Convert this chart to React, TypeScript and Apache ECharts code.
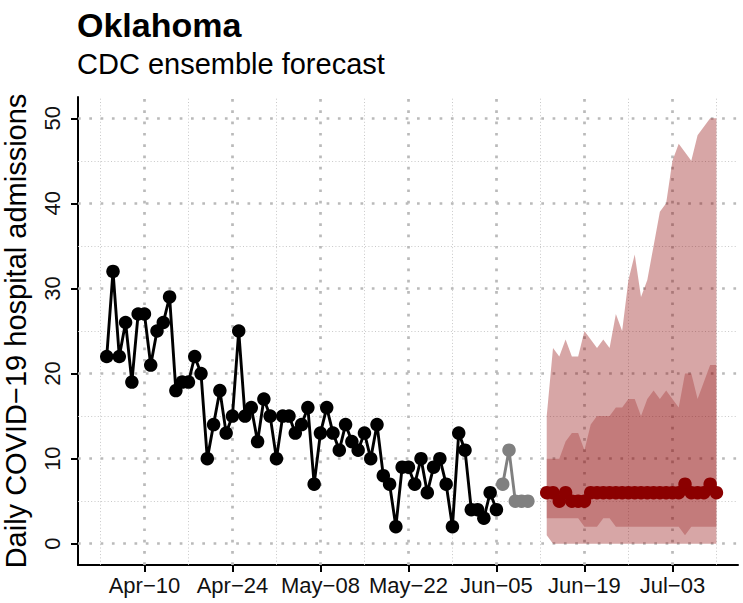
import React, { useEffect, useRef } from "react";
import * as echarts from "echarts";

// ---------- data ----------
const OBS_START = "2022-04-04";
const observed = [
  22, 32, 22, 26, 19, 27, 27, 21, 25, 26, 29, 18, 19, 19, 22, 20, 10, 14, 18, 13,
  15, 25, 15, 16, 12, 17, 15, 10, 15, 15, 13, 14, 16, 7, 13, 16, 13, 11, 14, 12,
  11, 13, 10, 14, 8, 7, 2, 9, 9, 7, 10, 6, 9, 10, 7, 2, 13, 11, 4, 4, 3, 6, 4,
];
const RECENT_START = "2022-06-06";
const recent = [7, 11, 5, 5, 5];
const FC_START = "2022-06-13";
const forecastMedian = [6, 6, 5, 6, 5, 5, 5, 6, 6, 6, 6, 6, 6, 6, 6, 6, 6, 6, 6, 6, 6, 6, 7, 6, 6, 6, 7, 6];
const q50Lower = [3, 3, 3, 3, 3, 3, 2, 2, 2, 3, 3, 2, 2, 2, 2, 2, 2, 2, 2, 2, 2, 2, 1, 2, 2, 2, 2, 2];
const q50Upper = [10, 10, 10, 12, 13, 13, 11, 14, 15, 15, 15, 16, 16, 17, 17, 15, 17, 18, 17, 18, 17, 16, 20, 20, 17, 19, 21, 21];
const q95Lower = [1, 0, 0, 0, 0, 0, 0, 0, 0, 0, 0, 0, 0, 0, 0, 0, 0, 0, 0, 0, 0, 0, 0, 0, 0, 0, 0, 0];
const q95Upper = [15, 23, 22, 24, 22, 22, 25, 24, 23, 24, 23, 27, 25, 31, 34, 29, 31, 35, 39, 40, 45, 47, 46, 45, 48, 49, 50, 50];

const xTickDates = ["2022-04-10", "2022-04-24", "2022-05-08", "2022-05-22", "2022-06-05", "2022-06-19", "2022-07-03"];
const xMinorDates = ["2022-04-03", "2022-04-17", "2022-05-01", "2022-05-15", "2022-05-29", "2022-06-12", "2022-06-26", "2022-07-10"];
const yTicks = [0, 10, 20, 30, 40, 50];
const yMinor = [5, 15, 25, 35, 45];

const TITLE = "Oklahoma";
const SUBTITLE = "CDC ensemble forecast";
const Y_TITLE = "Daily COVID\u221219 hospital admissions";

// ---------- helpers ----------
const DAY = 86400000;
const base = Date.parse(OBS_START);
const dayOf = (s: string) => Math.round((Date.parse(s) - base) / DAY);
const MONTHS = ["Jan", "Feb", "Mar", "Apr", "May", "Jun", "Jul", "Aug", "Sep", "Oct", "Nov", "Dec"];
const fmtDay = (v: number) => {
  const d = new Date(base + Math.round(v) * DAY);
  return `${MONTHS[d.getUTCMonth()]}\u2212${String(d.getUTCDate()).padStart(2, "0")}`;
};
const seriesFrom = (start: string, vals: number[]) => vals.map((v, i) => [dayOf(start) + i, v]);

const FONT = "'Liberation Sans', Arial, Helvetica, sans-serif";

function bandSeries(lo: number[], hi: number[], fill: string) {
  const start = dayOf(FC_START);
  const rows = hi.map((h, i) => [start + i, lo[i], h]);
  return {
    type: "custom",
    silent: true,
    z: 2,
    data: rows,
    encode: { x: 0, y: [1, 2] },
    renderItem: (params: any, api: any) => {
      if (params.dataIndex !== 0) return { type: "group", children: [] };
      const top = rows.map((r) => api.coord([r[0], r[2]]));
      const bottom = rows.map((r) => api.coord([r[0], r[1]])).reverse();
      return {
        type: "polygon",
        shape: { points: [...top, ...bottom] },
        style: { fill, stroke: "none" },
      };
    },
  };
}

export default function App() {
  const ref = useRef<HTMLDivElement>(null);
  useEffect(() => {
    if (!ref.current) return;
    const chart = echarts.init(ref.current, undefined, { renderer: "svg" });

    const majorStyle = { color: "#bababa", width: 2.7, type: [2.7, 8.6], cap: "butt" };
    const minorStyle = { color: "#c2c2c2", width: 0.9, type: [1, 2.3], cap: "butt" };
    const xMajor = xTickDates.map(dayOf);
    const xMinor = xMinorDates.map(dayOf);

    chart.setOption({
      animation: false,
      textStyle: { fontFamily: FONT },
      title: [
        {
          text: TITLE,
          left: 77,
          top: 8,
          padding: 0,
          textStyle: { fontFamily: FONT, fontWeight: "bold", fontSize: 34, color: "#000" },
        },
        {
          text: SUBTITLE,
          left: 77,
          top: 49,
          padding: 0,
          textStyle: { fontFamily: FONT, fontWeight: "normal", fontSize: 29, color: "#000" },
        },
      ],
      grid: { left: 78, right: 5, top: 97, bottom: 38, containLabel: false, outerBoundsMode: "none" },
      xAxis: {
        type: "value",
        min: -4.57,
        max: 100.43,
        splitLine: { show: false },
        axisLine: { show: true, onZero: false, lineStyle: { color: "#000", width: 2 } },
        axisTick: { show: true, length: 7, lineStyle: { color: "#000", width: 2 }, customValues: xMajor },
        axisLabel: {
          customValues: xMajor,
          formatter: (v: number) => fmtDay(v),
          fontSize: 22,
          color: "#111",
          margin: 9,
          fontFamily: FONT,
        },
      },
      yAxis: {
        type: "value",
        min: -2.5,
        max: 52.5,
        name: Y_TITLE,
        nameLocation: "middle",
        nameGap: 48,
        nameTextStyle: { fontSize: 29, color: "#000", fontFamily: FONT },
        splitLine: { show: false },
        axisLine: { show: true, onZero: false, lineStyle: { color: "#000", width: 2 } },
        axisTick: { show: true, length: 7, lineStyle: { color: "#000", width: 2 }, customValues: yTicks },
        axisLabel: {
          customValues: yTicks,
          rotate: 90,
          fontSize: 22,
          color: "#111",
          margin: 15,
          fontFamily: FONT,
        },
      },
      series: [
        {
          type: "line",
          data: [],
          silent: true,
          z: 1,
          markLine: {
            silent: true,
            z: 1,
            symbol: ["none", "none"],
            label: { show: false },
            emphasis: { disabled: true },
            data: [
              ...xMinor.map((v) => ({ xAxis: v, lineStyle: minorStyle })),
              ...yMinor.map((v) => ({ yAxis: v, lineStyle: minorStyle })),
              ...xMajor.map((v) => ({ xAxis: v, lineStyle: majorStyle })),
              ...yTicks.map((v) => ({ yAxis: v, lineStyle: majorStyle })),
            ],
          },
        },
        bandSeries(q95Lower, q95Upper, "rgba(139,0,0,0.35)"),
        bandSeries(q50Lower, q50Upper, "rgba(139,0,0,0.26)"),
        {
          type: "line",
          name: "observed",
          data: seriesFrom(OBS_START, observed),
          symbol: "circle",
          symbolSize: 13.5,
          showSymbol: true,
          itemStyle: { color: "#000" },
          lineStyle: { color: "#000", width: 2.9 },
          z: 5,
        },
        {
          type: "line",
          name: "recent",
          data: seriesFrom(RECENT_START, recent),
          symbol: "circle",
          symbolSize: 13.5,
          itemStyle: { color: "#808080" },
          lineStyle: { color: "#808080", width: 2.9 },
          z: 5,
        },
        {
          type: "line",
          name: "forecast",
          data: seriesFrom(FC_START, forecastMedian),
          symbol: "circle",
          symbolSize: 13.5,
          itemStyle: { color: "#8b0000" },
          lineStyle: { color: "#8b0000", width: 2.9 },
          z: 5,
        },
      ],
    });
    return () => chart.dispose();
  }, []);
  return <div ref={ref} style={{ width: 743, height: 603, position: "absolute", left: 0, top: 0 }} />;
}
